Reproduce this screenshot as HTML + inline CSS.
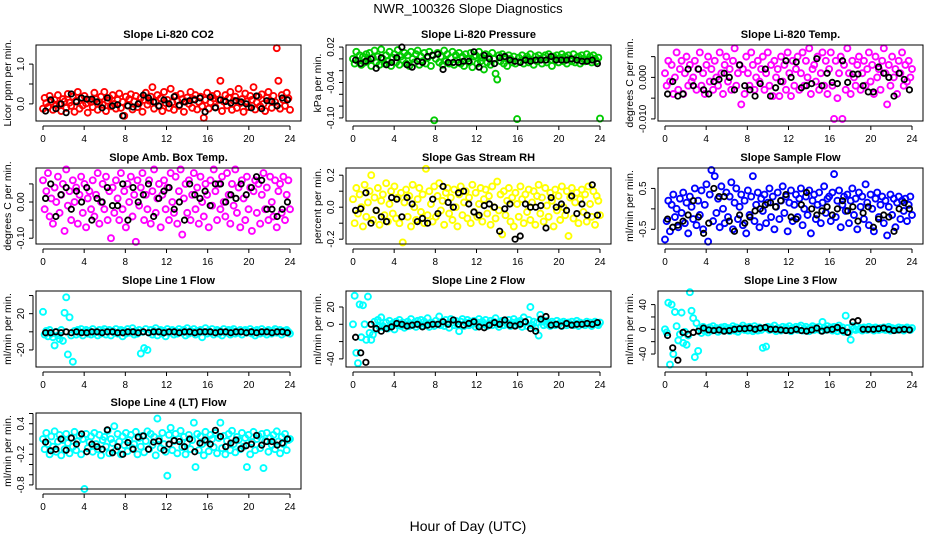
<!DOCTYPE html>
<html><head><meta charset="utf-8"><style>
html,body{margin:0;padding:0;background:#fff;}
svg{display:block;font-family:"Liberation Sans",sans-serif;}
</style></head><body>
<svg id="chart" width="936" height="540" viewBox="0 0 936 540">
<text x="468" y="13" text-anchor="middle" font-size="13">NWR_100326  Slope Diagnostics</text>
<text x="468" y="531" text-anchor="middle" font-size="14">Hour of Day (UTC)</text>
</svg>
<script>
const xTicks=[0,4,8,12,16,20,24];
const co2Vals=[-0.12,0.15,0.02,-0.08,0.2,0.05,-0.15,0.1,-0.02,0.22,0.0,-0.18,0.12,0.06,-0.1,0.25,0.03,-0.05,0.18,-0.2,0.08,0.3,-0.12,0.14,-0.04,0.2,0.01,-0.22,0.1,0.05,-0.08,0.28,0.12,-0.15,0.04,0.18,-0.02,0.3,-0.18,0.08,0.15,-0.06,0.22,0.0,-0.12,0.1,0.26,-0.1,0.05,-0.3,0.18,-0.04,0.12,0.24,-0.14,0.06,0.2,-0.08,0.02,0.15,-0.2,0.1,0.28,-0.02,0.08,0.18,0.42,-0.12,0.05,0.22,-0.06,0.14,-0.18,0.3,0.02,0.1,-0.1,0.38,0.04,-0.15,0.2,0.08,-0.05,0.25,0.12,-0.2,0.06,0.16,0.0,0.3,-0.1,0.12,0.22,-0.14,0.05,0.18,-0.06,-0.35,0.1,0.28,-0.12,0.04,0.2,0.14,-0.08,0.25,0.1,0.58,-0.18,0.06,0.22,-0.04,0.15,0.3,-0.15,0.08,0.18,-0.1,0.38,0.02,0.12,-0.2,0.26,0.06,-0.08,0.2,0.1,0.42,-0.14,0.04,0.18,-0.06,0.24,0.0,-0.18,0.15,0.3,0.08,-0.1,0.2,0.05,1.4,0.58,-0.12,0.22,0.1,-0.05,0.28,0.14,-0.15];
const co2Black=[-0.18,0.1,-0.12,0.0,-0.22,0.25,0.05,0.15,0.12,0.12,0.05,-0.1,0.15,-0.05,-0.02,-0.3,-0.05,-0.08,0.0,0.22,0.15,0.05,-0.05,0.1,0.0,0.18,-0.03,0.05,0.08,0.1,0.15,-0.2,0.17,-0.1,0.1,0.06,0.02,0.08,0.05,0.0,-0.1,0.2,-0.12,0.08,0.06,-0.05,0.15,0.1];
const presVals=[0.0,-0.008,0.012,-0.004,0.006,-0.01,0.004,-0.006,0.008,-0.002,0.01,-0.012,0.002,0.014,-0.006,0.004,-0.01,0.016,0.0,-0.008,0.006,-0.004,0.012,-0.012,0.002,0.008,-0.006,0.015,-0.01,0.004,-0.002,0.01,-0.008,0.006,-0.012,0.012,0.0,-0.006,0.008,0.014,-0.01,0.004,-0.004,0.01,-0.008,0.002,0.012,-0.012,0.006,-0.104,0.0,0.01,-0.006,0.004,-0.01,0.014,-0.004,0.008,-0.008,0.002,0.012,-0.01,0.006,-0.002,0.01,-0.008,0.004,-0.012,0.008,0.0,-0.006,0.01,-0.014,0.004,0.006,-0.008,0.012,-0.004,0.002,-0.018,0.008,-0.006,0.004,-0.01,0.01,0.0,-0.025,-0.035,0.006,-0.004,0.008,-0.008,0.002,-0.012,0.006,0.0,-0.006,0.004,-0.008,-0.102,0.002,-0.004,0.006,-0.008,0.0,0.004,-0.006,0.008,-0.002,-0.01,0.004,-0.004,0.006,0.0,-0.008,0.002,0.006,-0.006,0.008,-0.002,-0.012,0.004,0.0,0.006,-0.006,0.002,0.008,-0.004,0.004,-0.008,0.006,0.0,-0.004,0.008,-0.006,0.002,0.004,-0.008,0.006,0.0,-0.004,0.008,-0.002,0.004,-0.006,0.006,0.0,-0.004,0.002,-0.101];
const presBlack=[-0.002,-0.008,-0.004,0.0,-0.016,0.002,-0.01,-0.006,0.002,0.02,-0.01,-0.014,-0.004,-0.006,0.004,0.006,0.008,-0.018,-0.006,-0.006,-0.006,-0.004,-0.004,0.012,-0.014,0.006,0.0,-0.008,0.002,0.004,-0.002,-0.004,-0.006,-0.002,-0.004,-0.002,-0.002,-0.002,0.004,-0.002,-0.002,-0.002,0.0,-0.002,-0.004,-0.004,-0.002,-0.008];
const tempVals=[0.001,-0.002,0.004,-0.001,0.003,-0.004,0.0,0.006,-0.003,0.002,0.004,-0.004,0.001,0.005,-0.002,0.003,-0.001,0.0,0.004,-0.003,0.002,0.006,-0.002,0.001,-0.004,0.003,0.005,-0.001,0.002,-0.003,0.004,0.0,-0.002,0.006,0.001,-0.004,0.003,0.005,-0.001,0.002,-0.003,0.004,0.007,-0.002,0.001,0.003,-0.0065,0.002,-0.004,0.005,0.001,-0.002,0.006,0.003,-0.003,0.0,0.004,-0.001,0.002,0.005,-0.003,0.001,0.006,-0.002,0.003,-0.0045,0.004,0.0,0.002,-0.0045,0.005,-0.001,0.003,-0.003,0.006,0.001,-0.0045,0.004,-0.002,0.002,0.005,-0.003,0.001,0.006,-0.002,0.004,0.0,0.007,-0.004,0.002,0.003,-0.001,0.005,-0.003,0.001,0.006,-0.002,0.004,-0.004,0.002,0.006,-0.002,-0.010,0.004,-0.005,0.001,0.005,-0.010,0.003,-0.003,0.007,0.001,-0.004,0.004,0.0,-0.002,0.003,0.005,-0.003,0.001,0.004,-0.002,0.002,0.006,-0.001,0.003,-0.004,0.005,0.0,0.002,-0.003,0.004,0.007,0.001,-0.0065,0.003,-0.002,0.005,0.0,0.002,-0.004,0.004,0.001,0.006,-0.002,0.003,-0.001,0.004,0.0,0.002];
const tempBlack=[-0.004,-0.001,-0.0045,-0.004,0.002,-0.002,0.002,-0.003,-0.004,-0.001,-0.0005,0.001,0.0,-0.003,0.003,-0.002,-0.003,-0.0045,-0.0015,0.002,-0.0045,-0.0025,-0.001,0.004,0.0,0.0037,-0.0025,-0.002,-0.0015,0.0045,-0.002,0.001,-0.0012,-0.0015,0.004,-0.0012,0.0008,0.0008,-0.002,-0.0035,-0.0035,0.0025,0.001,0.0,-0.0045,0.001,-0.0005,-0.003];
const ambVals=[0.06,-0.02,0.03,0.08,-0.04,0.01,-0.06,0.04,0.0,0.07,-0.03,0.02,0.05,-0.08,0.09,-0.01,0.03,-0.05,0.06,0.0,0.04,-0.06,0.02,0.07,-0.03,0.05,-0.07,0.01,0.03,-0.02,0.06,-0.04,0.02,0.08,-0.06,0.0,0.05,-0.02,0.07,-0.05,0.03,-0.1,0.04,-0.03,0.06,0.01,-0.05,0.08,-0.02,0.03,-0.07,0.05,0.0,0.07,-0.04,0.02,-0.11,0.06,-0.01,0.04,0.08,-0.05,0.02,-0.02,0.06,-0.06,0.03,0.09,-0.03,0.01,0.05,-0.07,0.02,0.06,-0.02,0.04,-0.05,0.08,0.0,-0.03,0.07,-0.06,0.03,0.09,-0.09,0.01,0.05,-0.03,0.06,-0.05,0.02,0.08,-0.02,0.04,-0.06,0.07,0.0,-0.04,0.05,0.02,-0.07,0.06,-0.01,0.09,0.03,-0.05,0.05,-0.02,0.07,0.0,-0.04,0.08,0.02,-0.06,0.05,-0.01,0.09,-0.03,0.04,-0.07,0.06,0.01,-0.05,0.07,-0.02,0.04,-0.08,0.03,0.06,-0.03,0.05,-0.06,0.02,0.08,-0.02,0.04,-0.05,0.07,0.0,-0.04,0.06,-0.07,0.03,0.05,-0.03,0.07,-0.05,0.02,0.06,-0.02];
const ambBlack=[0.01,0.05,-0.04,0.02,0.04,-0.02,0.03,0.0,0.04,-0.05,0.01,0.0,0.04,-0.01,-0.01,0.05,-0.05,0.04,0.0,0.02,0.05,-0.04,0.01,0.03,0.04,-0.02,0.0,-0.05,0.05,0.02,0.01,0.03,-0.01,0.05,0.05,0.0,0.02,0.01,0.05,0.02,0.04,0.07,0.06,-0.02,-0.02,-0.04,-0.02,0.0];
const rhVals=[0.05,-0.1,0.12,-0.04,0.08,0.0,-0.12,0.14,-0.06,0.03,0.1,0.2,-0.08,0.06,-0.02,0.12,-0.11,0.04,0.08,-0.05,0.15,-0.09,0.02,0.1,-0.04,0.13,-0.07,0.06,-0.1,0.09,-0.22,0.03,0.11,-0.06,0.07,-0.12,0.14,0.0,-0.08,0.05,0.12,-0.03,0.08,-0.1,0.24,-0.05,0.1,0.02,-0.09,0.13,-0.06,0.07,0.15,-0.02,0.04,-0.11,0.09,0.12,-0.04,0.06,-0.08,0.11,0.0,-0.12,0.08,0.13,-0.05,0.03,0.1,-0.07,0.06,-0.1,0.14,-0.03,0.09,-0.06,0.02,0.12,-0.09,0.05,0.11,-0.04,0.07,-0.11,0.13,0.0,-0.07,0.16,-0.02,0.08,-0.17,0.1,-0.05,0.04,0.12,-0.09,0.06,-0.12,0.09,0.02,-0.06,0.13,0.05,-0.1,0.08,-0.03,0.11,-0.08,0.03,0.1,-0.11,0.07,0.14,-0.04,0.06,-0.09,0.12,0.01,-0.06,0.09,0.04,-0.12,0.11,-0.02,0.07,-0.08,0.13,0.0,-0.05,0.1,-0.18,0.06,0.12,-0.07,0.03,0.09,-0.1,0.05,0.11,-0.03,0.08,-0.09,0.13,0.02,-0.06,0.1,-0.11,0.07,0.04,-0.05];
const rhBlack=[-0.02,-0.01,0.09,-0.1,-0.02,-0.06,-0.09,0.06,0.05,-0.06,0.06,0.02,-0.09,-0.07,-0.1,0.05,-0.04,0.13,0.03,0.0,0.09,0.1,0.02,-0.03,-0.05,0.01,0.02,0.0,-0.15,-0.01,0.02,-0.2,-0.18,0.02,0.0,0.0,0.01,-0.13,0.06,0.0,0.02,-0.02,0.07,-0.04,0.02,-0.05,0.14,-0.05];
const sampleVals=[-0.75,-0.3,0.2,-0.55,0.1,0.35,-0.2,0.0,-0.45,0.25,-0.1,0.4,-0.35,0.15,-0.6,0.3,0.05,-0.25,0.5,-0.4,0.2,-0.15,0.45,-0.5,0.1,0.6,-0.8,0.35,0.95,-0.3,0.8,-0.1,0.25,-0.45,0.55,0.0,-0.35,0.4,-0.2,0.3,0.65,-0.5,0.15,0.5,-0.25,0.05,0.35,-0.4,0.2,-0.6,0.45,-0.15,0.3,0.8,-0.3,0.1,0.4,-0.45,0.25,-0.05,0.35,-0.35,0.15,0.5,-0.2,0.3,-0.5,0.05,0.4,-0.25,0.2,0.55,-0.1,0.3,-0.55,0.15,0.45,-0.3,0.1,0.35,-0.2,0.25,0.5,-0.4,0.0,0.3,-0.15,0.45,-0.6,0.2,0.35,-0.25,0.1,0.4,-0.35,0.15,0.55,-0.1,0.25,0.3,-0.3,0.4,0.85,-0.2,0.2,0.45,-0.45,0.1,0.3,-0.05,0.35,-0.35,0.2,0.5,-0.15,0.25,-0.5,0.4,0.05,0.3,-0.25,0.6,0.15,-0.4,0.35,0.0,-0.55,0.25,0.4,-0.2,0.1,0.3,-0.35,0.2,-0.65,0.05,0.35,-0.15,0.25,-0.45,0.15,0.3,-0.25,0.2,-0.05,0.25,-0.3,0.1,0.3,-0.15];
const sampleBlack=[-0.25,-0.45,-0.4,-0.3,-0.15,0.2,-0.2,-0.6,-0.35,0.5,0.3,0.3,-0.3,-0.55,-0.15,-0.35,-0.2,-0.05,0.0,0.1,0.15,0.05,0.2,0.35,-0.2,-0.25,0.1,0.4,0.0,-0.15,-0.05,0.05,-0.15,0.0,0.2,-0.05,0.05,-0.3,-0.1,0.05,-0.45,-0.25,-0.15,-0.2,-0.55,0.0,0.15,0.0];
const line1Vals=[22,-3,1,-5,2,-2,-6,-15,0,-4,-8,2,-10,21,38,-25,16,-4,-33,1,-3,2,-1,3,-4,0,2,-2,1,-3,3,-1,0,-4,2,-2,1,3,-3,0,2,-4,1,-1,3,-2,0,2,-5,1,-2,3,-1,0,4,-3,1,-2,2,-24,0,-18,3,-20,-1,2,-3,1,4,-4,0,2,-2,1,-5,3,-1,0,2,-3,1,-2,3,0,-1,2,-4,4,-2,1,0,3,-3,1,-1,2,-6,0,4,-2,1,-1,3,-3,0,2,-2,1,-4,3,-1,0,2,-3,1,3,-2,0,-1,2,-3,1,2,-1,0,3,-2,1,-4,2,0,-2,3,-1,1,-3,2,0,-2,1,3,-1,0,2,-3,1,-1,2,0,-2];
const line1Black=[-1,-1,0,-1,0,-1,0,-1,-1,0,0,-1,0,0,-1,-1,0,0,-1,0,-1,0,0,-1,0,0,-1,0,0,-1,0,0,0,-1,0,0,-1,0,0,-1,0,-1,0,0,-1,0,0,-1];
const line2Vals=[0,33,-33,-45,23,-15,22,0,-18,32,-10,-18,-12,3,-6,5,-3,8,-2,-4,2,-5,4,-3,1,-6,3,-1,5,-2,2,-4,0,3,-2,6,-1,2,-3,4,0,5,-2,3,-1,7,-3,2,1,-2,4,0,9,-1,3,-2,5,1,-4,6,2,-1,4,0,-8,3,6,-2,2,5,-1,3,0,4,-3,2,6,-1,3,0,5,-2,1,4,-1,3,7,0,-3,2,4,-1,3,0,5,-2,2,6,-1,3,0,4,-3,8,2,-2,5,20,-1,3,-4,2,-13,11,3,-1,4,0,2,-2,3,1,-1,4,0,2,-2,3,1,-1,2,0,3,-1,1,4,-2,2,0,1,-1,3,0,2,-2,1,3,0,-1,2];
const line2Black=[-15,-33,-44,0,-5,-8,-5,-3,1,0,-2,-1,0,-3,-1,0,0,3,0,5,0,-1,1,3,-3,-4,-1,2,0,5,-1,-2,0,3,-5,-8,6,9,-1,0,-2,1,-1,0,0,1,0,2];
const line3Vals=[0,-5,43,-57,40,-40,28,5,-18,-8,27,-22,-4,-25,-10,60,30,18,-45,10,-35,2,-6,4,-3,1,-5,3,-2,5,-1,2,-4,0,3,-2,4,-1,2,-3,1,5,-2,3,-4,0,2,6,-1,3,-2,4,0,-3,5,1,-2,3,-1,-30,2,-28,4,-1,3,0,6,-3,2,1,-2,4,0,3,-1,5,-3,2,0,4,-1,3,6,-2,1,4,0,-3,2,5,-1,3,0,4,-2,12,2,-1,5,0,3,-2,4,1,-3,6,0,3,-4,22,2,-5,-17,5,1,-1,4,0,2,-2,3,1,-1,4,0,2,-2,3,1,-1,2,0,3,-1,1,4,-2,2,0,1,-1,3,0,2,-2,1,3,0,-1,2];
const line3Black=[-10,-30,-50,-5,-8,-5,-3,2,-1,-2,-1,-3,-2,0,1,1,2,0,2,3,0,0,-1,-2,-2,0,-2,-3,-1,2,-3,-1,0,3,-2,-5,12,14,0,0,0,1,2,0,-2,-1,0,-1];
const line4Vals=[0.1,-0.1,0.22,0.0,-0.2,0.15,-0.05,0.25,-0.15,0.05,0.18,-0.22,0.08,-0.1,0.2,0.02,-0.18,0.12,-0.05,0.24,-0.12,0.06,0.16,-0.2,0.1,-0.88,0.2,-0.08,0.04,0.15,-0.15,0.22,0.0,-0.1,0.18,-0.22,0.08,0.14,-0.05,0.26,-0.18,0.1,0.02,0.35,-0.12,0.2,0.05,-0.2,0.15,-0.02,0.22,-0.14,0.08,0.18,-0.08,0.0,0.24,-0.2,0.12,-0.05,0.16,-0.16,0.06,0.25,-0.1,0.2,-0.02,0.14,-0.22,0.5,0.1,-0.08,0.22,0.0,-0.15,-0.62,0.18,0.32,-0.12,0.06,0.2,-0.18,0.1,0.26,-0.06,0.14,-0.2,0.02,0.18,-0.1,0.08,0.42,-0.45,0.2,-0.12,0.15,0.0,-0.22,0.24,0.05,-0.14,0.18,0.1,-0.06,0.22,-0.18,0.12,0.42,-0.08,0.16,-0.2,0.06,0.2,-0.12,0.26,0.0,-0.16,0.14,0.08,-0.1,0.22,-0.05,0.12,-0.45,0.18,-0.2,0.04,0.24,-0.12,0.1,0.16,-0.08,0.2,-0.47,0.06,0.22,-0.15,0.12,-0.02,0.18,-0.1,0.25,0.05,-0.18,0.14,0.0,0.2,-0.12,0.08,0.1];
const line4Black=[0.04,-0.13,-0.1,0.1,-0.12,0.12,0.0,0.2,-0.15,0.0,-0.05,-0.1,0.28,-0.17,-0.05,-0.2,0.03,-0.1,0.14,0.16,-0.1,0.04,0.06,-0.12,0.0,0.07,0.05,-0.05,0.1,-0.15,0.02,0.08,0.0,0.27,0.15,-0.05,0.02,0.08,-0.09,-0.03,0.0,0.17,-0.02,0.05,0.05,-0.02,0.02,0.1];

const panels=[
 {name:'co2',title:'Slope Li-820 CO2',ylab:'Licor ppm per min.',color:'#ff0000',vals:co2Vals,black:co2Black,ymin:-0.43,ymax:1.48,ticks:[0,0.5,1.0],labels:[[0,'0.0'],[1.0,'1.0']],col:0,row:0},
 {name:'pressure',title:'Slope Li-820 Pressure',ylab:'kPa per min.',color:'#00cc00',vals:presVals,black:presBlack,ymin:-0.1052,ymax:0.0235,ticks:[0.02,0,-0.02,-0.04,-0.06,-0.08,-0.1],labels:[[0.02,'0.02'],[-0.04,'-0.04'],[-0.1,'-0.10']],col:1,row:0},
 {name:'temp',title:'Slope Li-820 Temp.',ylab:'degrees C per min.',color:'#ff00ff',vals:tempVals,black:tempBlack,ymin:-0.0105,ymax:0.0078,ticks:[0.005,0,-0.005,-0.01],labels:[[0,'0.000'],[-0.01,'-0.010']],col:2,row:0},
 {name:'amb-box',title:'Slope Amb. Box Temp.',ylab:'degrees C per min.',color:'#ff00ff',vals:ambVals,black:ambBlack,ymin:-0.116,ymax:0.094,ticks:[0.05,0,-0.05,-0.1],labels:[[0,'0.00'],[-0.1,'-0.10']],col:0,row:1},
 {name:'gas-rh',title:'Slope Gas Stream RH',ylab:'percent per min.',color:'#ffff00',vals:rhVals,black:rhBlack,ymin:-0.23,ymax:0.245,ticks:[0.2,0.1,0,-0.1,-0.2],labels:[[0.2,'0.2'],[0,'0.0'],[-0.2,'-0.2']],col:1,row:1},
 {name:'sample-flow',title:'Slope Sample Flow',ylab:'ml/min per min.',color:'#0000ff',vals:sampleVals,black:sampleBlack,ymin:-0.86,ymax:1.0,ticks:[0.5,0,-0.5],labels:[[0.5,'0.5'],[-0.5,'-0.5']],col:2,row:1},
 {name:'line1-flow',title:'Slope Line 1 Flow',ylab:'ml/min per min.',color:'#00ffff',vals:line1Vals,black:line1Black,ymin:-38.8,ymax:45,ticks:[40,20,0,-20],labels:[[20,'20'],[-20,'-20']],col:0,row:2},
 {name:'line2-flow',title:'Slope Line 2 Flow',ylab:'ml/min per min.',color:'#00ffff',vals:line2Vals,black:line2Black,ymin:-49.4,ymax:38.5,ticks:[20,0,-20,-40],labels:[[20,'20'],[0,'0'],[-40,'-40']],col:1,row:2},
 {name:'line3-flow',title:'Slope Line 3 Flow',ylab:'ml/min per min.',color:'#00ffff',vals:line3Vals,black:line3Black,ymin:-61,ymax:62,ticks:[40,20,0,-20,-40],labels:[[40,'40'],[0,'0'],[-40,'-40']],col:2,row:2},
 {name:'line4-flow',title:'Slope Line 4 (LT) Flow',ylab:'ml/min per min.',color:'#00ffff',vals:line4Vals,black:line4Black,ymin:-0.88,ymax:0.61,ticks:[0.6,0.4,0.2,0,-0.2,-0.4,-0.6,-0.8],labels:[[0.4,'0.4'],[-0.2,'-0.2'],[-0.8,'-0.8']],col:0,row:3}
];
const colLeft=[36,346,658], rowTop=[45,168,291,413], boxW=265, boxH=76;
const NS='http://www.w3.org/2000/svg';
const svg=document.getElementById('chart');
function mk(tag,attrs,parent){const e=document.createElementNS(NS,tag);for(const k in attrs)e.setAttribute(k,attrs[k]);parent.appendChild(e);return e;}
panels.forEach(p=>{
 const L=colLeft[p.col],T=rowTop[p.row],B=T+boxH,R=L+boxW;
 const xs=h=>L+7+h*(247/24);
 const ys=v=>B-(v-p.ymin)/(p.ymax-p.ymin)*boxH;
 const g=mk('g',{},svg);
 
 
 const t=mk('text',{x:(L+R)/2,y:T-7,'text-anchor':'middle','font-size':11,'font-weight':'bold'},g);
 t.textContent=p.title;
 
 
 const yl=mk('text',{transform:`translate(${L-25},${(T+B)/2}) rotate(-90)`,'text-anchor':'middle','font-size':10.5},g);
 yl.textContent=p.ylab;
 
 
 const xa=mk('g',{},g);
 
 
 mk('line',{x1:xs(0),x2:xs(24),y1:B+5,y2:B+5,stroke:'#000','stroke-width':1},xa);
 xTicks.forEach(h=>{
  mk('line',{x1:xs(h),x2:xs(h),y1:B+5,y2:B+9,stroke:'#000','stroke-width':1},xa);
  const tl=mk('text',{x:xs(h),y:B+21,'text-anchor':'middle','font-size':10},xa);
  tl.textContent=h;
  
  
 });
 const ya=mk('g',{},g);
 
 
 const tv=p.ticks.filter(v=>v>=p.ymin-1e-9&&v<=p.ymax+1e-9);
 mk('line',{x1:L-3,x2:L-3,y1:ys(Math.max(...tv)),y2:ys(Math.min(...tv)),stroke:'#000','stroke-width':1},ya);
 tv.forEach(v=>mk('line',{x1:L-3,x2:L-7,y1:ys(v),y2:ys(v),stroke:'#000','stroke-width':1},ya));
 p.labels.forEach(([v,s])=>{
  const tl=mk('text',{transform:`translate(${L-12},${ys(v)}) rotate(-90)`,'text-anchor':'middle','font-size':10},ya);
  tl.textContent=s;
  
  
 });
 const pg=mk('g',{fill:'none',stroke:p.color,'stroke-width':1.9},g);
 
 
 const n=p.vals.length;
 p.vals.forEach((v,i)=>{
  const c=mk('circle',{cx:xs(i*24/(n-1)),cy:ys(v),r:3},pg);
  
  
 });
 const bg=mk('g',{fill:'none',stroke:'#000','stroke-width':1.8},g);
 
 
 p.black.forEach((v,i)=>{
  const c=mk('circle',{cx:xs((i+0.5)*0.5),cy:ys(v),r:2.7},bg);
  
  
 });
 const box=mk('rect',{x:L,y:T,width:boxW,height:boxH,fill:'none',stroke:'#000','stroke-width':1},g);
 
 
});
</script>
</body></html>
